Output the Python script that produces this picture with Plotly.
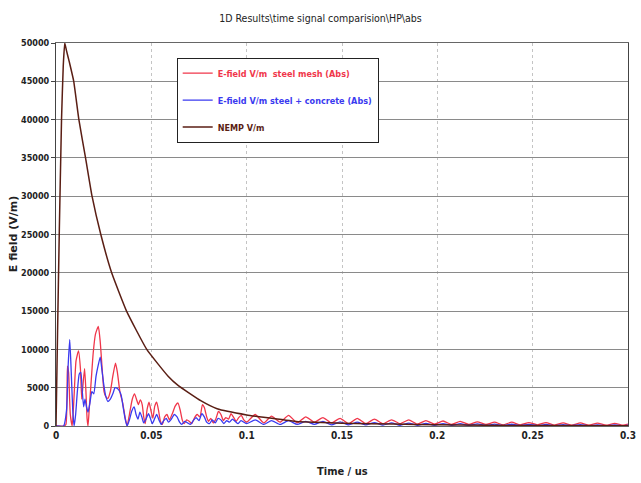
import plotly.graph_objects as go

# ---------------- data ----------------
nemp_t = [0, 0.0008, 0.0017, 0.0029, 0.0038, 0.0046, 0.0055, 0.0070, 0.0093, 0.012,
          0.0155, 0.0189, 0.0235, 0.0292, 0.037, 0.0476, 0.0588, 0.064, 0.0759, 0.0845,
          0.100, 0.110, 0.126, 0.136, 0.150, 0.177, 0.200, 0.250, 0.300]
nemp_v = [0, 12000, 25000, 40000, 47000, 50000, 49000, 47500, 45000, 40000,
          35000, 30000, 25000, 20000, 15000, 10000, 6500, 5300, 3300, 2250,
          1450, 1100, 600, 480, 350, 250, 150, 60, 20]

mesh_t = [0, 0.004, 0.0052, 0.006, 0.0066, 0.0075, 0.0085, 0.0095, 0.0105, 0.0118,
          0.0128, 0.0135, 0.0142, 0.0150, 0.0157, 0.0163, 0.0168, 0.0175, 0.0185, 0.0195,
          0.0207, 0.0222, 0.0232, 0.0242, 0.0252, 0.0262, 0.0272, 0.0285, 0.0298, 0.0312,
          0.0322, 0.0335, 0.0350, 0.0362, 0.0373, 0.0385, 0.0400, 0.0412, 0.0422, 0.0432,
          0.0442, 0.0452, 0.0460, 0.0468, 0.0478, 0.0488, 0.0498, 0.0508, 0.0518, 0.0528,
          0.0538, 0.0548, 0.0558, 0.0570, 0.0582, 0.0595, 0.0610, 0.0625, 0.0640, 0.0652,
          0.0662, 0.0672, 0.0685, 0.0700, 0.0712, 0.0725, 0.0740, 0.0755, 0.0768, 0.0778,
          0.0790, 0.0800, 0.0812, 0.0825, 0.0838, 0.0852, 0.0865, 0.0878, 0.0890, 0.0905,
          0.0918, 0.0930, 0.0945, 0.0958, 0.0972, 0.0985, 0.1000,
          0.1045, 0.109, 0.113, 0.1175, 0.122, 0.1265, 0.131, 0.1355, 0.14, 0.1445,
          0.149, 0.1535, 0.158, 0.1625, 0.167, 0.1715, 0.176, 0.1805, 0.185, 0.1895,
          0.194, 0.1985, 0.203, 0.2075, 0.212, 0.2165, 0.221, 0.2255, 0.23, 0.2345,
          0.239, 0.2435, 0.248, 0.2525, 0.257, 0.2615, 0.266, 0.2705, 0.275, 0.2795,
          0.284, 0.2885, 0.293, 0.2975, 0.3]
mesh_v = [0, 0, 200, 7800, 7000, 1500, 0, 4000, 8500, 9800,
          7500, 3500, 5500, 7500, 4500, 1000, 0, 2500, 6000, 9500,
          12000, 13000, 11000, 7500, 4500, 3800, 3600, 4500, 6500, 8200,
          7000, 4500, 3000, 1200, 0, 1500, 3500, 4200, 3500, 2800,
          3400, 2800, 1200, 300, 2200, 3100, 2000, 1000, 2600, 3100,
          2000, 600, 200, 1200, 1500, 800, 1600, 2600, 3000, 2000,
          800, 300, 800, 600, 300, 1000, 1500, 1200, 2800, 2400,
          1200, 600, 1000, 400, 900, 1900, 1500, 700, 1100, 900,
          1600, 1200, 600, 1100, 1400, 800, 500,
          1500, 400, 1300, 500, 1400, 400, 1200, 500, 1100, 400,
          1000, 300, 1000, 300, 900, 300, 800, 300, 800, 250,
          700, 250, 650, 200, 600, 200, 550, 200, 500, 150,
          500, 150, 450, 150, 450, 120, 400, 120, 400, 100,
          380, 100, 350, 100, 250]

conc_t = [0, 0.004, 0.0055, 0.0064, 0.0072, 0.0080, 0.0088, 0.0095, 0.0103, 0.0112,
          0.0122, 0.0130, 0.0138, 0.0145, 0.0152, 0.0160, 0.0168, 0.0178, 0.0188, 0.0198,
          0.0210, 0.0222, 0.0232, 0.0240, 0.0250, 0.0260, 0.0272, 0.0285, 0.0298, 0.0310,
          0.0322, 0.0332, 0.0342, 0.0352, 0.0362, 0.0373, 0.0385, 0.0398, 0.0410, 0.0420,
          0.0430, 0.0440, 0.0450, 0.0460, 0.0472, 0.0485, 0.0495, 0.0505, 0.0518, 0.0528,
          0.0540, 0.0552, 0.0565, 0.0578, 0.0590, 0.0605, 0.0620, 0.0635, 0.0648, 0.0660,
          0.0675, 0.0690, 0.0705, 0.0720, 0.0735, 0.0750, 0.0765, 0.0778, 0.0790, 0.0805,
          0.0820, 0.0835, 0.0850, 0.0865, 0.0880, 0.0895, 0.0910, 0.0925, 0.0940, 0.0955,
          0.0970, 0.0985, 0.1000,
          0.1045, 0.109, 0.113, 0.1175, 0.122, 0.1265, 0.131, 0.1355, 0.14, 0.1445,
          0.149, 0.1535, 0.158, 0.1625, 0.167, 0.1715, 0.176, 0.1805, 0.185, 0.1895,
          0.194, 0.1985, 0.203, 0.2075, 0.212, 0.2165, 0.221, 0.2255, 0.23, 0.2345,
          0.239, 0.2435, 0.248, 0.2525, 0.257, 0.2615, 0.266, 0.2705, 0.275, 0.2795,
          0.284, 0.2885, 0.293, 0.2975, 0.3]
conc_v = [0, 0, 2000, 8000, 11300, 7000, 2000, 0, 1500, 4500,
          6800, 7000, 4500, 2500, 3500, 2500, 1800, 3000, 4500, 4200,
          6500, 8000, 9000, 7500, 5500, 4000, 3200, 3500, 4200, 5000,
          4900, 4600, 4000, 2500, 1000, 0, 800, 2000, 2500, 1500,
          900, 1800, 1200, 400, 900, 1600, 1000, 300, 1000, 1500,
          800, 200, 700, 1000, 500, 900, 1500, 1200, 500, 200,
          600, 400, 200, 700, 1100, 700, 1600, 1200, 500, 300,
          800, 400, 1000, 800, 300, 700, 500, 900, 600, 300,
          700, 500, 300,
          800, 200, 700, 200, 700, 200, 600, 200, 600, 150,
          550, 150, 500, 150, 450, 120, 400, 100, 380, 100,
          350, 100, 320, 80, 300, 80, 280, 60, 250, 60,
          230, 50, 220, 50, 200, 40, 180, 40, 170, 30,
          150, 30, 140, 30, 100]

names = ["E-field V/m  steel mesh (Abs)", "E-field V/m steel + concrete (Abs)", "NEMP V/m"]
colors = ["#f0364a", "#3a3af0", "#5a1e14"]

FONT = "DejaVu Sans Condensed, Liberation Sans, sans-serif"

fig = go.Figure()
series = [(mesh_t, mesh_v), (conc_t, conc_v), (nemp_t, nemp_v)]
smooth = [0.5, 0.5, 0.4]
widths = [1.3, 1.3, 1.5]
for i, ((t, v), nm, c) in enumerate(zip(series, names, colors)):
    fig.add_trace(go.Scatter(
        x=t, y=v, mode="lines",
        line=dict(color=c, width=widths[i], shape="spline", smoothing=smooth[i]),
        name=f'<span style="color:{c}"><b>{nm}</b></span>',
        legendgroup=f"g{i}"))

fig.update_layout(
    width=641, height=483,
    margin=dict(l=56, r=5, t=43, b=57),
    paper_bgcolor="white", plot_bgcolor="white",
    font=dict(family=FONT, size=10, color="#222"),
    showlegend=True,
    legend=dict(x=0.211, y=0.962, xanchor="left", yanchor="top",
                bgcolor="white", bordercolor="#222", borderwidth=1,
                font=dict(family=FONT, size=9),
                tracegroupgap=8, itemwidth=30),
    title=dict(text="1D Results\\time signal comparision\\HP\\abs",
               x=0.5, xanchor="center", y=0.962, yanchor="middle",
               font=dict(family=FONT, size=10.5, color="#222")),
)
xvals = [0, 0.05, 0.1, 0.15, 0.2, 0.25, 0.3]
fig.update_xaxes(range=[0, 0.3], tickvals=xvals,
                 ticktext=["<b>0</b>", "<b>0.05</b>", "<b>0.1</b>", "<b>0.15</b>", "<b>0.2</b>", "<b>0.25</b>", "<b>0.3</b>"],
                 showgrid=True, gridcolor="#c4c4c4", griddash="dot", gridwidth=1,
                 showline=True, linecolor="#666", mirror=True, zeroline=False,
                 ticks="", ticklabeloverflow="allow",
                 tickfont=dict(family=FONT, size=10, color="#222"))
yvals = list(range(0, 50001, 5000))
fig.update_yaxes(range=[0, 50000], tickvals=yvals, ticktext=[f"<b>{v}</b>" for v in yvals],
                 showgrid=True, gridcolor="#8a8a8a", gridwidth=1,
                 showline=True, linecolor="#444", mirror=True, zeroline=False,
                 ticks="outside", ticklen=4, tickcolor="#444",
                 tickfont=dict(family=FONT, size=9, color="#222"))

fig.add_annotation(text="<b>Time / us</b>", xref="paper", yref="paper",
                   x=0.5, y=-0.118, xanchor="center", yanchor="middle", showarrow=False,
                   font=dict(family=FONT, size=11, color="#222"))
fig.add_annotation(text="<b>E field (V/m)</b>", xref="paper", yref="paper",
                   x=-0.074, y=0.5, xanchor="center", yanchor="middle", showarrow=False,
                   textangle=-90, font=dict(family="DejaVu Sans, sans-serif", size=11, color="#222"))

fig.write_html("out.html")
